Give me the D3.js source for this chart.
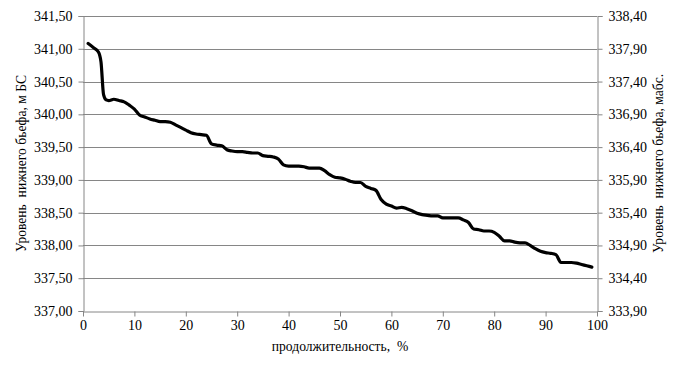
<!DOCTYPE html>
<html><head><meta charset="utf-8">
<script src="https://cdn.jsdelivr.net/npm/d3@7"></script>
<style>body{margin:0;background:#fff}svg{display:block}</style>
</head><body><svg id="c" width="680" height="365"></svg>
<script>
const durations=[1,2,3,3.5,4,4.5,5,6,7,8,9,10,11,12,13,14,15,16,17,18,19,20,21,22,23,24,25,26,27,28,29,30,31,32,33,34,35,36,37,38,39,40,41,42,43,44,45,46,47,48,49,50,51,52,53,54,55,56,57,58,59,60,61,62,63,64,65,66,67,68,69,70,71,72,73,74,75,76,77,78,79,80,81,82,83,84,85,86,87,88,89,90,91,92,93,94,95,96,97,98,99];
const levels=[341.08,341.02,340.95,340.80,340.30,340.22,340.21,340.23,340.21,340.19,340.14,340.08,339.99,339.96,339.93,339.91,339.89,339.89,339.88,339.84,339.80,339.76,339.72,339.70,339.69,339.68,339.55,339.53,339.52,339.46,339.44,339.43,339.43,339.42,339.41,339.41,339.37,339.36,339.35,339.32,339.23,339.21,339.21,339.21,339.20,339.18,339.18,339.18,339.14,339.08,339.04,339.03,339.01,338.98,338.96,338.96,338.90,338.87,338.84,338.70,338.63,338.60,338.57,338.58,338.56,338.53,338.49,338.47,338.46,338.45,338.45,338.42,338.42,338.42,338.42,338.39,338.35,338.25,338.24,338.22,338.22,338.20,338.14,338.07,338.07,338.05,338.04,338.04,338.00,337.95,337.91,337.89,337.88,337.86,337.74,337.74,337.74,337.73,337.71,337.69,337.67];
const xTicks=[0,10,20,30,40,50,60,70,80,90,100];
const leftTicks=[337.0,337.5,338.0,338.5,339.0,339.5,340.0,340.5,341.0,341.5];
const rightTicks=[333.9,334.4,334.9,335.4,335.9,336.4,336.9,337.4,337.9,338.4];
const xTitle="продолжительность,  %";
const leftTitle="Уровень  нижнего бьефа, м БС";
const rightTitle="Уровень  нижнего бьефа, мабс.";

const FONT='"Liberation Serif", "Times New Roman", serif';
const svg=d3.select("#c");
const L=83,R=597,T=16,B=311;
const x=d3.scaleLinear().domain([0,100]).range([L,R]);
const y=d3.scaleLinear().domain([337,341.5]).range([B,T]);
const y2=d3.scaleLinear().domain([333.9,338.4]).range([B,T]);
const fmt=d=>d3.format(".2f")(d).replace(".",",");
const grid="#868686";

svg.append("g").selectAll("line").data(leftTicks.slice(1)).join("line")
 .attr("x1",L).attr("x2",R).attr("y1",d=>Math.round(y(d))+0.5).attr("y2",d=>Math.round(y(d))+0.5)
 .attr("stroke",grid).attr("stroke-width",1);

function styleAxis(g){
 g.selectAll("path,line").attr("stroke",grid);
 g.selectAll("text").style("font-family",FONT).style("font-size","14px").attr("fill","#000");}

svg.append("g").attr("transform",`translate(${L+0.5},0)`)
 .call(d3.axisLeft(y).tickValues(leftTicks).tickFormat(fmt).tickSize(5).tickSizeOuter(5).tickPadding(6)).call(styleAxis);
svg.append("g").attr("transform",`translate(${R+0.5},0)`)
 .call(d3.axisRight(y2).tickValues(rightTicks).tickFormat(fmt).tickSize(5).tickSizeOuter(5).tickPadding(6)).call(styleAxis);
svg.append("g").attr("transform",`translate(0,${B+0.5})`)
 .call(d3.axisBottom(x).tickValues(xTicks).tickFormat(d3.format("d")).tickSize(5).tickSizeOuter(0).tickPadding(4)).call(styleAxis);

const pts=durations.map((d,i)=>[d,levels[i]]);
svg.append("path").datum(pts)
 .attr("fill","none").attr("stroke","#000").attr("stroke-width",3.2).attr("stroke-linejoin","round").attr("stroke-linecap","round")
 .attr("d",d3.line().x(d=>x(d[0])).y(d=>y(d[1])).curve(d3.curveMonotoneX));

function title(sel){return sel.style("font-family",FONT).style("font-size","13.6px").style("white-space","pre").attr("fill","#000").attr("text-anchor","middle");}
svg.append("text").attr("x",340).attr("y",351).call(title).text(xTitle);
svg.append("text").attr("transform",`translate(26,${(T+B)/2}) rotate(-90)`).call(title).text(leftTitle);
svg.append("text").attr("transform",`translate(663,${(T+B)/2}) rotate(-90)`).call(title).text(rightTitle);
</script></body></html>
